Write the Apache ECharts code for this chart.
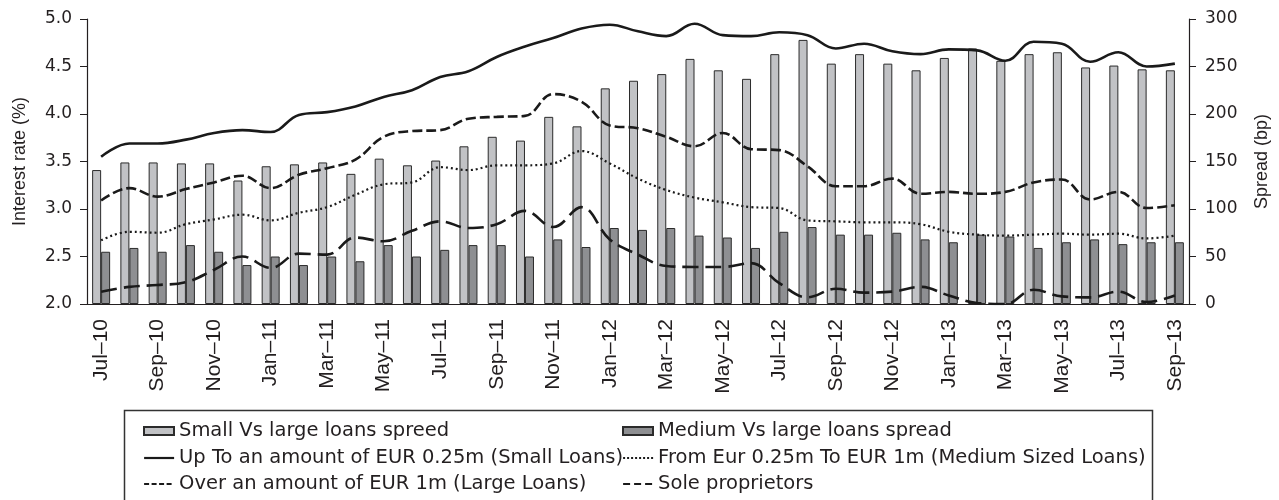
<!DOCTYPE html>
<html>
<head>
<meta charset="utf-8">
<script src="https://cdn.jsdelivr.net/npm/echarts@6/dist/echarts.min.js"></script>
<style>
  html, body { margin: 0; padding: 0; background: #fff; }
  #chart { width: 1279px; height: 500px; }
</style>
</head>
<body>
<div id="chart"></div>
<script>
var months = ['Jul–10','Aug–10','Sep–10','Oct–10','Nov–10','Dec–10',
  'Jan–11','Feb–11','Mar–11','Apr–11','May–11','Jun–11','Jul–11','Aug–11','Sep–11','Oct–11','Nov–11','Dec–11',
  'Jan–12','Feb–12','Mar–12','Apr–12','May–12','Jun–12','Jul–12','Aug–12','Sep–12','Oct–12','Nov–12','Dec–12',
  'Jan–13','Feb–13','Mar–13','Apr–13','May–13','Jun–13','Jul–13','Aug–13','Sep–13'];

// spreads (bp, right axis)
var smallSpread = [141,149,149,148,148,130,145,147,149,137,153,146,
  151,166,176,172,197,187,227,235,242,258,246,237,
  263,278,253,263,253,246,259,269,256,263,265,249,251,247,246];
var mediumSpread = [55,59,55,62,55,41,50,41,50,45,62,50,
  57,62,62,50,68,60,80,78,80,72,70,59,
  76,81,73,73,75,68,65,73,71,59,65,68,63,65,65];

// interest rates (%, left axis)
var smallLoans = [3.55,3.69,3.69,3.73,3.80,3.83,3.81,3.99,4.02,4.08,4.18,4.25,
  4.39,4.45,4.60,4.71,4.80,4.90,4.94,4.87,4.82,4.95,4.83,4.82,
  4.86,4.83,4.69,4.74,4.66,4.63,4.68,4.67,4.56,4.76,4.74,4.55,4.65,4.50,4.53];
var mediumLoans = [2.67,2.76,2.75,2.84,2.89,2.94,2.88,2.96,3.02,3.15,3.26,3.28,
  3.44,3.41,3.46,3.46,3.48,3.61,3.48,3.32,3.20,3.12,3.07,3.02,
  3.01,2.88,2.87,2.86,2.86,2.84,2.76,2.73,2.72,2.73,2.74,2.73,2.74,2.69,2.72];
var largeLoans = [2.13,2.18,2.20,2.23,2.36,2.50,2.38,2.53,2.52,2.70,2.66,2.77,
  2.87,2.80,2.84,2.98,2.81,3.02,2.68,2.52,2.40,2.39,2.39,2.43,
  2.22,2.07,2.16,2.12,2.13,2.18,2.09,2.01,2.00,2.15,2.08,2.07,2.13,2.02,2.09];
var soleProp = [3.09,3.22,3.13,3.21,3.28,3.35,3.22,3.36,3.43,3.52,3.76,3.82,
  3.83,3.95,3.97,3.98,4.21,4.13,3.88,3.85,3.76,3.66,3.80,3.63,
  3.62,3.45,3.24,3.24,3.32,3.16,3.18,3.16,3.18,3.28,3.31,3.10,3.18,3.01,3.04];

var names = ['Small Vs large loans spreed', 'Medium Vs large loans spread',
  'Up To an amount of EUR 0.25m (Small Loans)', 'From Eur 0.25m To EUR 1m (Medium Sized Loans)',
  'Over an amount of EUR 1m (Large Loans)', 'Sole proprietors'];

var ink = '#231f20';
var txt = { fontFamily: 'DejaVu Sans', fontSize: 17, color: ink };
var rot = { fontFamily: 'Liberation Sans', fontSize: 18, color: ink };

// legend: two columns, one legend per entry
var legendPos = [[143, 421], [622, 421], [143, 448], [622, 448], [143, 474], [622, 474]];
var legendDash = [null, null, 'solid', [2, 2], [5, 2.5], [7, 4]];
var legends = names.map(function (n, i) {
  var item = { name: n };
  if (i < 2) {
    item.icon = 'rect';
  } else {
    // hide the symbol dot that line series put in the legend icon
    item.lineStyle = { type: legendDash[i], width: 2.2 };
    item.itemStyle = { color: 'rgba(0,0,0,0)', borderColor: 'rgba(0,0,0,0)', borderWidth: 0 };
  }
  return {
    data: [item],
    left: legendPos[i][0],
    top: legendPos[i][1],
    padding: 0,
    itemWidth: 30,
    itemHeight: 8,
    selectedMode: false,
    textStyle: { fontFamily: 'DejaVu Sans', fontSize: 19.5, color: ink }
  };
});

function lineSeries(name, data, type, width) {
  return {
    name: name,
    type: 'line',
    yAxisIndex: 0,
    data: data,
    smooth: 0.4,
    symbol: 'none',
    lineStyle: { color: '#1a1a1a', width: width, type: type },
    itemStyle: { color: '#1a1a1a' },
    z: 3
  };
}

var chart = echarts.init(document.getElementById('chart'));
chart.setOption({
  animation: false,
  backgroundColor: '#fff',
  grid: { left: 87, right: 89, top: 19, bottom: 196 },
  legend: legends,
  graphic: [{
    type: 'rect',
    shape: { x: 124.5, y: 410.5, width: 1028, height: 120 },
    style: { fill: 'none', stroke: '#333', lineWidth: 1.5 },
    z: -1
  }],
  xAxis: {
    type: 'category',
    data: months,
    boundaryGap: true,
    axisLine: { lineStyle: { color: ink, width: 1.2 } },
    axisTick: { interval: 0, length: 6, lineStyle: { color: ink } },
    axisLabel: { interval: 1, rotate: 90, margin: 15, fontFamily: 'Liberation Sans', fontSize: 21, color: ink },
    splitLine: { show: false }
  },
  yAxis: [{
    type: 'value',
    min: 2, max: 5, interval: 0.5,
    name: 'Interest rate (%)',
    nameLocation: 'middle',
    nameRotate: 90,
    nameGap: 58,
    nameTextStyle: rot,
    axisLine: { show: true, lineStyle: { color: ink, width: 1.2 } },
    axisTick: { show: true, length: 7, lineStyle: { color: ink } },
    axisLabel: Object.assign({ margin: 15, formatter: function (v) { return v.toFixed(1); } }, txt),
    splitLine: { show: false }
  }, {
    type: 'value',
    min: 0, max: 300, interval: 50,
    name: 'Spread (bp)',
    nameLocation: 'middle',
    nameRotate: 90,
    nameGap: 64,
    nameTextStyle: rot,
    axisLine: { show: true, lineStyle: { color: ink, width: 1.2 } },
    axisTick: { show: true, length: 7, lineStyle: { color: ink } },
    axisLabel: Object.assign({ margin: 16 }, txt),
    splitLine: { show: false }
  }],
  series: [
    {
      name: names[0], type: 'bar', yAxisIndex: 1, data: smallSpread,
      barWidth: 9, barGap: '0%',
      itemStyle: { color: '#c1c2c5', borderColor: '#2b2b2b', borderWidth: 1 }
    },
    {
      name: names[1], type: 'bar', yAxisIndex: 1, data: mediumSpread,
      barWidth: 9, barGap: '0%',
      itemStyle: { color: '#8e8f92', borderColor: '#2b2b2b', borderWidth: 1 }
    },
    lineSeries(names[2], smallLoans, 'solid', 2.6),
    lineSeries(names[3], mediumLoans, [2, 3], 2.2),
    lineSeries(names[4], largeLoans, [16, 7], 2.6),
    lineSeries(names[5], soleProp, [10, 4], 2.6)
  ]
});
</script>
</body>
</html>
